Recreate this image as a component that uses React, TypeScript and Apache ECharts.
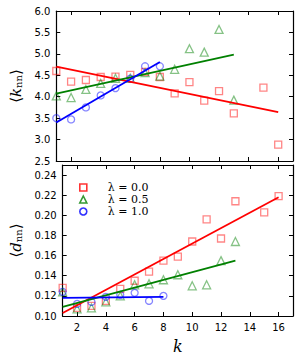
import React, { useEffect, useRef } from "react";
import * as echarts from "echarts";

// ---- data ----
const kRed = [1, 2, 3, 4, 5, 6, 7, 8, 9, 10, 11, 12, 13, 15, 16];
const kGreen = [1, 2, 3, 4, 5, 6, 7, 8, 9, 10, 11, 12, 13];
const kBlue = [1, 2, 3, 4, 5, 6, 7, 8];

const knnRed = [4.6, 4.35, 4.39, 4.46, 4.47, 4.51, 4.58, 4.46, 4.08, 4.34, 3.91, 4.13, 3.61, 4.21, 2.88];
const knnGreen = [4.02, 3.98, 4.17, 4.31, 4.43, 4.43, 4.56, 4.48, 4.64, 5.12, 5.04, 5.57, 3.92];
const knnBlue = [3.5, 3.47, 3.75, 4.03, 4.2, 4.42, 4.71, 4.71];

const dnnRed = [0.128, 0.108, 0.11, 0.115, 0.127, 0.135, 0.144, 0.155, 0.159, 0.174, 0.196, 0.177, 0.214, 0.203, 0.219];
const dnnGreen = [0.124, 0.107, 0.108, 0.114, 0.12, 0.131, 0.132, 0.136, 0.141, 0.13, 0.131, 0.155, 0.174];
const dnnBlue = [0.124, 0.112, 0.114, 0.119, 0.121, 0.123, 0.115, 0.12];

// fit lines: [k start, k end], [value start, value end]
const fitKRed = [1, 16];
const fitKGreen = [1, 13];
const fitKBlue = [1, 8];
const knnFitRed = [4.7, 3.64];
const knnFitGreen = [4.07, 4.98];
const knnFitBlue = [3.4, 4.81];
const dnnFitRed = [0.103, 0.218];
const dnnFitGreen = [0.109, 0.155];
const dnnFitBlue = [0.118, 0.119];

const xTicks = [2, 4, 6, 8, 10, 12, 14, 16];
const knnTicks = [2.5, 3.0, 3.5, 4.0, 4.5, 5.0, 5.5, 6.0];
const dnnTicks = [0.1, 0.12, 0.14, 0.16, 0.18, 0.2, 0.22, 0.24];

const legendNames = ["λ = 0.0", "λ = 0.5", "λ = 1.0"];

const RED = "#ff0000";
const GREEN = "#008000";
const BLUE = "#0000ff";
const RED_L = "rgba(255,0,0,0.6)";
const GREEN_L = "rgba(0,128,0,0.6)";
const BLUE_L = "rgba(0,0,255,0.6)";

const zip = (xs: number[], ys: number[]) => xs.map((x, i) => [x, ys[i]]);

export default function App() {
  const ref = useRef<HTMLDivElement>(null);
  useEffect(() => {
    if (!ref.current) return;
    const chart = echarts.init(ref.current, null, { renderer: "svg" });
    const font = "DejaVu Sans";
    const axisLine = { show: true, onZero: false, lineStyle: { color: "#000", width: 1.2 } };
    const tick = (vals: number[]) => ({
      show: true,
      inside: true,
      length: 4,
      lineStyle: { color: "#000", width: 1 },
      customValues: vals,
    });
    const xBase = (gridIndex: number, position: string, showLabel: boolean) => ({
      type: "value",
      gridIndex,
      position,
      min: 1,
      max: 17,
      axisLine,
      axisTick: tick(xTicks),
      axisLabel: {
        show: showLabel,
        customValues: xTicks,
        color: "#000",
        fontFamily: font,
        fontSize: 10,
        margin: 6,
      },
      splitLine: { show: false },
    });
    const scatter = (name: string, xi: number, symbol: string, color: string, data: number[][]) => ({
      name,
      type: "scatter",
      xAxisIndex: xi,
      yAxisIndex: xi,
      symbol,
      symbolSize: symbol === "triangle" ? 8 : 7,
      clip: true,
      itemStyle: { color: "rgba(0,0,0,0)", borderColor: color, borderWidth: 1.3 },
      data,
      z: 2,
    });
    const line = (xi: number, color: string, ks: number[], vs: number[]) => ({
      type: "line",
      xAxisIndex: xi,
      yAxisIndex: xi,
      symbol: "none",
      lineStyle: { color, width: 1.8 },
      data: zip(ks, vs),
      z: 3,
      silent: true,
    });
    const richName = () => ({
      a: { fontFamily: "DejaVu Serif", fontSize: 15, color: "#000" },
      k: { fontFamily: "DejaVu Serif", fontStyle: "italic", fontSize: 15, color: "#000" },
      s: { fontFamily: "DejaVu Serif", fontSize: 10, color: "#000", padding: [6, 0, 0, 0] },
    });
    const option: any = {
      animation: false,
      backgroundColor: "#fff",
      grid: [
        { left: 53, top: 11, width: 240, height: 150 },
        { left: 53, top: 165, width: 240, height: 151 },
      ],
      xAxis: [
        xBase(0, "bottom", false),
        {
          ...xBase(1, "bottom", true),
          name: "k",
          nameLocation: "middle",
          nameGap: 22,
          nameTextStyle: { fontFamily: "DejaVu Serif", fontStyle: "italic", fontSize: 16, color: "#000" },
        },
        xBase(0, "top", false),
        xBase(1, "top", false),
      ],
      yAxis: [
        {
          type: "value",
          gridIndex: 0,
          position: "left",
          min: 2.5,
          max: 6.0,
          interval: 0.5,
          axisLine,
          axisTick: tick(knnTicks),
          axisLabel: {
            customValues: knnTicks,
            formatter: (v: number) => v.toFixed(1),
            color: "#000",
            fontFamily: font,
            fontSize: 10,
            margin: 6,
          },
          splitLine: { show: false },
          name: "{a|⟨}{k|k}{s|nn}{a|⟩}",
          nameLocation: "middle",
          nameRotate: 90,
          nameGap: 30,
          nameTextStyle: { rich: richName() },
        },
        {
          type: "value",
          gridIndex: 1,
          position: "left",
          min: 0.1,
          max: 0.25,
          axisLine,
          axisTick: tick(dnnTicks),
          axisLabel: {
            customValues: dnnTicks,
            formatter: (v: number) => v.toFixed(2),
            color: "#000",
            fontFamily: font,
            fontSize: 10,
            margin: 6,
          },
          splitLine: { show: false },
          name: "{a|⟨}{k|d}{s|nn}{a|⟩}",
          nameLocation: "middle",
          nameRotate: 90,
          nameGap: 30,
          nameTextStyle: { rich: richName() },
        },
        {
          type: "value",
          gridIndex: 0,
          position: "right",
          min: 2.5,
          max: 6.0,
          interval: 0.5,
          axisLine,
          axisTick: tick(knnTicks),
          axisLabel: { show: false },
          splitLine: { show: false },
        },
        {
          type: "value",
          gridIndex: 1,
          position: "right",
          min: 0.1,
          max: 0.25,
          axisLine,
          axisTick: tick(dnnTicks),
          axisLabel: { show: false },
          splitLine: { show: false },
        },
      ],
      legend: {
        orient: "vertical",
        left: 74,
        top: 177,
        itemWidth: 7,
        itemHeight: 7,
        itemGap: 1,
        selectedMode: false,
        textStyle: { fontFamily: "DejaVu Serif", fontSize: 11, color: "#000", padding: [0, 0, 0, 16] },
        data: [
          { name: legendNames[0], icon: "rect", itemStyle: { color: "rgba(0,0,0,0)", borderColor: RED, borderWidth: 1.6 } },
          { name: legendNames[1], icon: "triangle", itemStyle: { color: "rgba(0,0,0,0)", borderColor: GREEN, borderWidth: 1.6 } },
          { name: legendNames[2], icon: "circle", itemStyle: { color: "rgba(0,0,0,0)", borderColor: BLUE, borderWidth: 1.6 } },
        ],
      },
      series: [
        scatter(legendNames[0], 0, "rect", RED_L, zip(kRed, knnRed)),
        scatter(legendNames[1], 0, "triangle", GREEN_L, zip(kGreen, knnGreen)),
        scatter(legendNames[2], 0, "circle", BLUE_L, zip(kBlue, knnBlue)),
        line(0, RED, fitKRed, knnFitRed),
        line(0, GREEN, fitKGreen, knnFitGreen),
        line(0, BLUE, fitKBlue, knnFitBlue),
        scatter(legendNames[0], 1, "rect", RED_L, zip(kRed, dnnRed)),
        scatter(legendNames[1], 1, "triangle", GREEN_L, zip(kGreen, dnnGreen)),
        scatter(legendNames[2], 1, "circle", BLUE_L, zip(kBlue, dnnBlue)),
        line(1, RED, fitKRed, dnnFitRed),
        line(1, GREEN, fitKGreen, dnnFitGreen),
        line(1, BLUE, fitKBlue, dnnFitBlue),
      ],
    };
    chart.setOption(option);
    return () => chart.dispose();
  }, []);
  return (
    <div
      ref={ref}
      style={{ position: "fixed", left: 0, top: 0, width: 303, height: 356, background: "#fff" }}
    />
  );
}
